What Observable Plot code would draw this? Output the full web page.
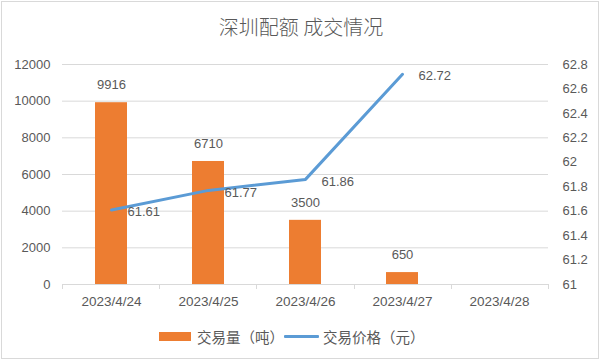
<!DOCTYPE html>
<html><head><meta charset="utf-8">
<script src="https://cdn.jsdelivr.net/npm/d3@7"></script>
<script src="https://cdn.jsdelivr.net/npm/@observablehq/plot@0.6"></script>
<style>
html,body{margin:0;padding:0;background:#fff;}
#wrap{position:relative;width:602px;height:362px;overflow:hidden;font-family:"Liberation Sans","Noto Sans CJK SC",sans-serif;color:#595959;}
#frame{position:absolute;left:1px;top:1px;width:598px;height:358px;border:1px solid #d9d9d9;box-sizing:border-box;pointer-events:none;}
#title{position:absolute;left:0;top:12px;width:602px;text-align:center;font-family:"Noto Sans CJK SC",sans-serif;font-size:20px;font-weight:300;color:#595959;}
#chart{position:absolute;left:0;top:0;}
#legend{position:absolute;top:326px;left:159px;display:flex;align-items:center;font-family:"Noto Sans CJK SC",sans-serif;font-size:14.5px;color:#595959;white-space:nowrap;}
.sw{display:inline-block;}
</style></head>
<body><div id="wrap"><div id="chart"></div><div id="title"></div><div id="legend"></div><div id="frame"></div></div>
<script>
const title = "深圳配额 成交情况";
const dates = ["2023/4/24","2023/4/25","2023/4/26","2023/4/27","2023/4/28"];
const volume = [9916, 6710, 3500, 650, null];
const price = [61.61, 61.77, 61.86, 62.72, null];
const volumeTicks = [0, 2000, 4000, 6000, 8000, 10000, 12000];
const priceTicks = [61, 61.2, 61.4, 61.6, 61.8, 62, 62.2, 62.4, 62.6, 62.8];
const seriesNames = ["交易量（吨）", "交易价格（元）"];
const colors = ["#ED7D31", "#5B9BD5"];

const pMin = 61, pMax = 62.8, vMax = 12000;
const toY = p => (p - pMin) / (pMax - pMin) * vMax;

const rows = dates.map((d, i) => ({date: d, volume: volume[i], price: price[i]}));
const volRows = rows.filter(r => r.volume != null);
const priceRows = rows.filter(r => r.price != null);

function bandTicks(index, scales, values, dims) {
  const n = dates.length;
  const w = dims.width - dims.marginLeft - dims.marginRight;
  const y0 = dims.height - dims.marginBottom;
  const g = d3.create("svg:g");
  for (let i = 0; i <= n; i++) {
    const x = Math.round(dims.marginLeft + i * w / n) + 0.5;
    g.append("line").attr("x1", x).attr("x2", x).attr("y1", y0).attr("y2", y0 + 5)
      .attr("stroke", "#d9d9d9");
  }
  return g.node();
}

const txt = {fill: "#595959", fontSize: 13, fontFamily: "Liberation Sans, sans-serif"};

const chart = Plot.plot({
  width: 602, height: 362,
  marginTop: 64, marginBottom: 78, marginLeft: 62, marginRight: 54,
  style: {fontFamily: "Liberation Sans, sans-serif", fontSize: "13px", color: "#595959", background: "transparent"},
  x: {domain: dates, paddingInner: 0.67, paddingOuter: 0.335},
  y: {domain: [0, vMax]},
  marks: [
    Plot.gridY(volumeTicks, {stroke: "#d9d9d9", strokeOpacity: 1}),
    Plot.axisY(volumeTicks, {anchor: "left", tickSize: 0, tickPadding: 12, ...txt, label: null, tickFormat: d => String(d)}),
    Plot.axisY(priceTicks.map(toY), {anchor: "right", tickSize: 0, tickPadding: 14, ...txt, label: null,
      tickFormat: v => String(+(pMin + v / vMax * (pMax - pMin)).toFixed(1))}),
    Plot.axisX({anchor: "bottom", tickSize: 0, tickPadding: 12, ...txt, fontSize: 13.5, label: null}),
    Plot.barY(volRows, {x: "date", y: "volume", fill: colors[0]}),
    Plot.ruleY([0], {stroke: "#d9d9d9"}),
    bandTicks,
    Plot.line(priceRows, {x: "date", y: d => toY(d.price), stroke: colors[1], strokeWidth: 3, curve: "linear"}),
    Plot.text(volRows, {x: "date", y: "volume", text: d => String(d.volume), dy: -18, ...txt}),
    Plot.text(priceRows, {x: "date", y: d => toY(d.price), text: d => d.price.toFixed(2), dx: 16, dy: 2, textAnchor: "start", ...txt})
  ]
});
document.getElementById("chart").appendChild(chart);
document.getElementById("title").textContent = title;
const lg = document.getElementById("legend");
lg.innerHTML = `<span class="sw" style="width:32px;height:9px;background:${colors[0]};margin-right:6px"></span><span>${seriesNames[0]}</span>` +
  `<span class="sw" style="width:35px;height:3px;background:${colors[1]};margin:0 4px 0 0;border-radius:1px"></span><span>${seriesNames[1]}</span>`;
</script></body></html>
